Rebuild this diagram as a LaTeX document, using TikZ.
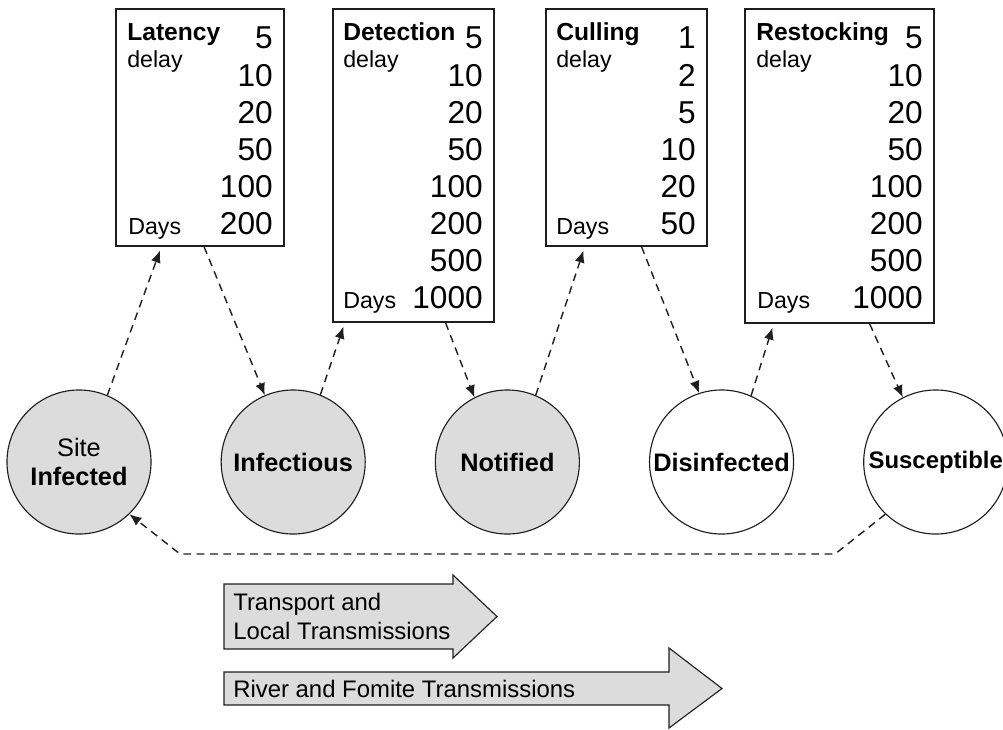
\documentclass[tikz,border=0pt]{standalone}
\usepackage{fontspec}
\setmainfont{Liberation Sans}
\usetikzlibrary{arrows.meta,positioning}
\definecolor{stagegray}{RGB}{220,220,220}
\definecolor{inkgray}{RGB}{30,30,30}

\begin{document}
\begin{tikzpicture}[
  x=0.025cm, y=-0.025cm,
  node distance=1.725cm,
  stage/.style={draw=inkgray,circle,line width=0.8pt,minimum size=3.6cm,inner sep=0pt,
                fill=stagegray,align=center,font=\fontsize{18}{20.5}\selectfont},
  delaybox/.style={draw=inkgray,line width=0.8pt,fill=white,inner sep=0pt},
  num/.style={anchor=base east,inner sep=0pt,font=\fontsize{22.5}{27}\selectfont},
  tag/.style={anchor=base west,inner sep=0pt,font=\fontsize{16.5}{20}\selectfont},
  head/.style={tag,font=\fontsize{17.5}{20}\selectfont\bfseries},
  flow/.style={draw=inkgray,line width=1pt,dash pattern=on 5.5pt off 4pt,
               -{Latex[length=0.3cm,width=0.25cm]}},
  band/.style={draw=inkgray,line width=0.8pt,fill=stagegray,line join=miter},
  bandtext/.style={anchor=west,align=left,inner sep=0pt,font=\fontsize{17}{20}\selectfont}
]
\useasboundingbox (0,0) rectangle (1003,729);

% stages of a site
\node[stage] (S0) at (79,462) {Site\\\textbf{Infected}};
\node[stage,right=of S0] (S1) {\textbf{Infectious}};
\node[stage,right=of S1] (S2) {\textbf{Notified}};
\node[stage,right=of S2,fill=white] (S3) {\textbf{Disinfected}};
\node[stage,right=of S3,fill=white,font=\fontsize{17}{20}\selectfont] (S4) {\textbf{Susceptible}};

% delay boxes
\node[delaybox,minimum width=4.2cm,minimum height=5.925cm] (lat) at (200,127.5) {};
\node[delaybox,minimum width=4.025cm,minimum height=7.825cm] (det) at (413.5,165.5) {};
\node[delaybox,minimum width=4.025cm,minimum height=5.925cm] (cul) at (626.5,127.5) {};
\node[delaybox,minimum width=4.725cm,minimum height=7.85cm] (res) at (839.5,166) {};

\node[head] (lat-h) at (127,40) {Latency};
\node[tag] (lat-d) at (127,68) {delay};
\node[tag] (lat-u) at (128,234) {Days};
\foreach \n [count=\i from 0] in {5,10,20,50,100,200}
  \node[num] (lat-\i) at (273,49+37*\i) {\n};

\node[head] (det-h) at (343,40) {Detection};
\node[tag] (det-d) at (343,68) {delay};
\node[tag] (det-u) at (343,308) {Days};
\foreach \n [count=\i from 0] in {5,10,20,50,100,200,500,1000}
  \node[num] (det-\i) at (483,49+37*\i) {\n};

\node[head] (cul-h) at (556,40) {Culling};
\node[tag] (cul-d) at (556,68) {delay};
\node[tag] (cul-u) at (556,234) {Days};
\foreach \n [count=\i from 0] in {1,2,5,10,20,50}
  \node[num] (cul-\i) at (696,49+37*\i) {\n};

\node[head] (res-h) at (756,40) {Restocking};
\node[tag] (res-d) at (756,68) {delay};
\node[tag] (res-u) at (757,308) {Days};
\foreach \n [count=\i from 0] in {5,10,20,50,100,200,500,1000}
  \node[num] (res-\i) at (923,49+37*\i) {\n};

% stage -> delay -> stage
\draw[flow] (S0.67) -- ([shift={(-40,4)}]lat.south);
\draw[flow] ([xshift=0.1cm]lat.south) -- (S1.113);
\draw[flow] (S1.68) -- ([shift={(-70,4)}]det.south);
\draw[flow] ([xshift=0.8cm]det.south) -- (S2.117);
\draw[flow] (S2.67) -- ([shift={(-43,4)}]cul.south);
\draw[flow] ([xshift=0.375cm]cul.south) -- (S3.108);
\draw[flow] (S3.66) -- ([shift={(-67,4)}]res.south);
\draw[flow] ([xshift=0.75cm]res.south) -- (S4.117);

% back to infected
\coordinate (back-r) at (835,554);
\coordinate (back-l) at (180,554);
\draw[flow] (S4.226) -- (back-r) -- (back-l) -- (S0.314);

% transmission routes
\draw[band] (224,584) -- (453,584) -- (453,575) -- (497,616.5) -- (453,658)
  -- (453,649) -- (224,649) -- cycle;
\node[bandtext] (local) at (233,616.5) {Transport and\\Local Transmissions};
\draw[band] (224,672) -- (669,672) -- (669,648) -- (722,688.5) -- (669,728)
  -- (669,705) -- (224,705) -- cycle;
\node[bandtext] (river) at (233,688.5) {River and Fomite Transmissions};
\end{tikzpicture}
\end{document}
